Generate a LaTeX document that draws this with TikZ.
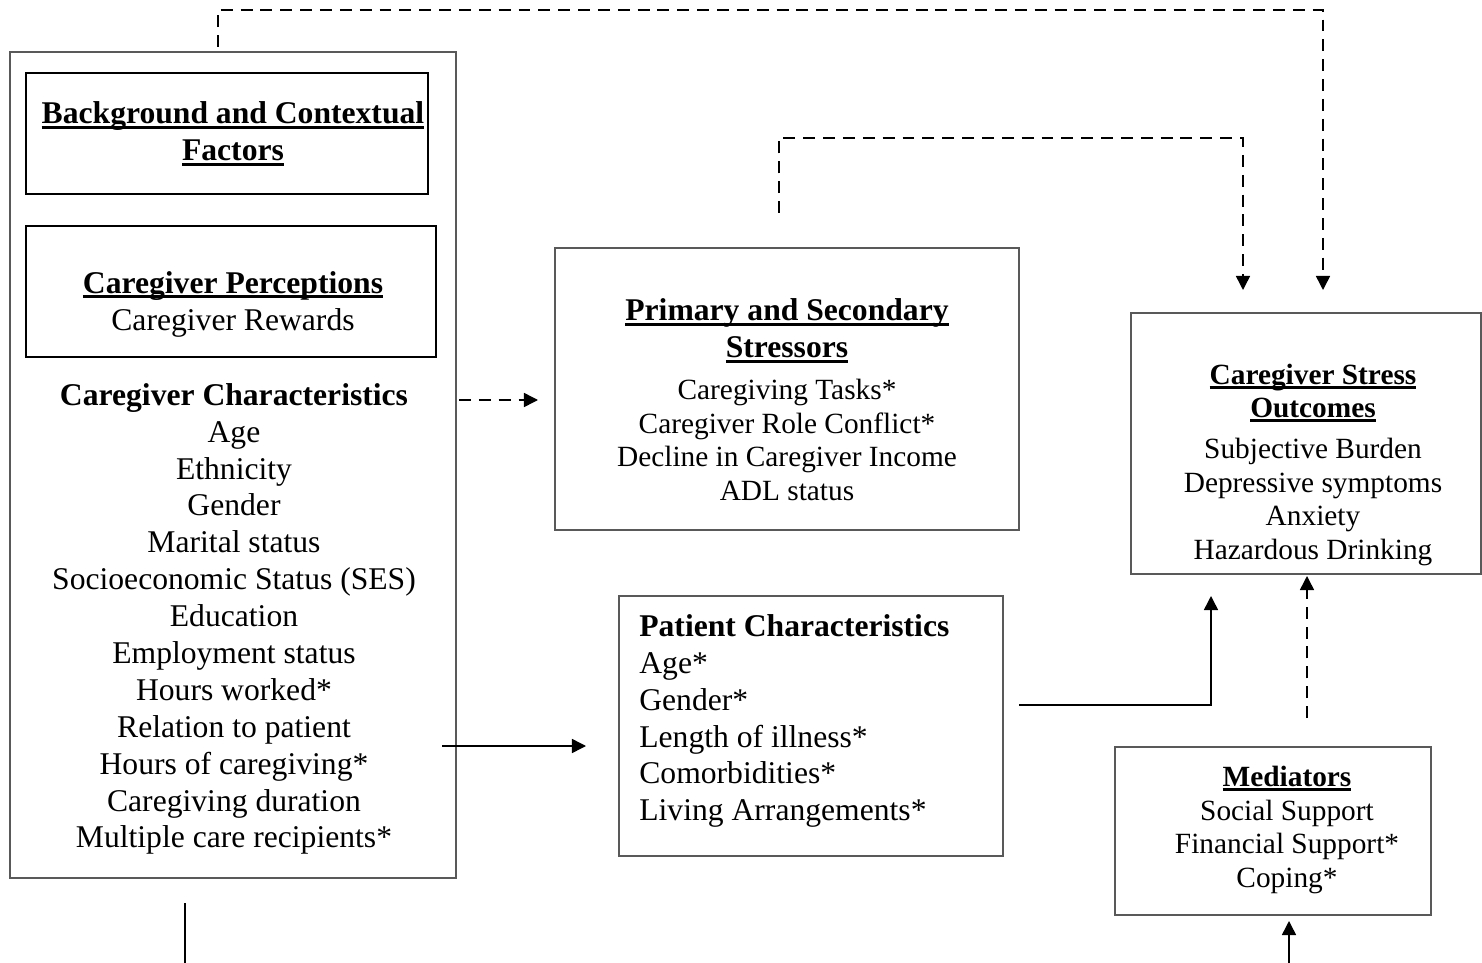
\documentclass[tikz,border=0pt]{standalone}
\usepackage{fontspec}
\setmainfont{Liberation Serif}
\usetikzlibrary{arrows.meta,fit,positioning}

% bold heading with a heavy underline
\newcommand\hdr[1]{{\bfseries\setbox0\hbox{#1}\rlap{\rule[-2.9pt]{\wd0}{1.6pt}}\box0}}

\begin{document}
\begin{tikzpicture}[x=0.02cm,y=-0.02cm,>={Triangle[length=8pt,width=8pt]}]
  \tikzset{
    box/.style={draw=black!65, line width=0.9pt, inner sep=0pt},
    heavybox/.style={draw=black, line width=1.3pt, inner sep=0pt},
    txt/.style={align=center, inner sep=0pt, font=\fontsize{18}{21}\selectfont},
    smalltxt/.style={txt, font=\fontsize{16.7}{19.3}\selectfont},
    link/.style={line width=0.85pt},
    dashlink/.style={link, dash pattern=on 6.8pt off 4.5pt}
  }
  \useasboundingbox (0,0) rectangle (1482,963);

  % left column: background, perceptions and caregiver characteristics
  \node[box, fit={(10,52) (456,878)}] (outer) {};
  \node[heavybox, fit={(26,73) (428,194)}] (bgbox) {};
  \node[txt] (bgtitle) at (233,134) {\hdr{Background and Contextual}\\\hdr{Factors}};
  \node[heavybox, fit={(26,226) (436,357)}] (percbox) {};
  \node[txt] (perctext) at (233,304) {\hdr{Caregiver Perceptions}\\Caregiver Rewards};
  \node[txt] (charstext) at (234,619) {\textbf{Caregiver Characteristics}\\Age\\Ethnicity\\Gender\\
    Marital status\\Socioeconomic Status (SES)\\Education\\Employment status\\Hours worked*\\
    Relation to patient\\Hours of caregiving*\\Caregiving duration\\Multiple care recipients*};

  % stressors
  \node[box, fit={(555,248) (1019,530)}] (stressbox) {};
  \node[txt] (stresstitle) at (787,331) {\hdr{Primary and Secondary}\\\hdr{Stressors}};
  \node[smalltxt] (stresstext) at (787,440) {Caregiving Tasks*\\Caregiver Role Conflict*\\
    Decline in Caregiver Income\\ADL status};

  % patient
  \node[box, fit={(619,596) (1003,856)}] (patbox) {};
  \node[txt, align=left, anchor=west] (pattext) at (639,721) {\textbf{Patient Characteristics}\\Age*\\Gender*\\
    Length of illness*\\Comorbidities*\\Living Arrangements*};

  % outcomes
  \node[box, fit={(1131,313) (1481,574)}] (outbox) {};
  \node[smalltxt, font=\fontsize{16.7}{18.7}\selectfont] (outtitle) at (1313,393) {\hdr{Caregiver Stress}\\\hdr{Outcomes}};
  \node[smalltxt] (outtext) at (1313,502) {Subjective Burden\\Depressive symptoms\\Anxiety\\Hazardous Drinking};

  % mediators
  \node[box, fit={(1115,747) (1431,915)}] (medbox) {};
  \node[smalltxt] (medtext) at (1287,830) {\hdr{Mediators}\\Social Support\\Financial Support*\\Coping*};

  % connector ends
  \coordinate (cc-s) at (459,400);
  \coordinate (st-w) at (538,400);
  \coordinate (cc-p) at (442,746);
  \coordinate (pt-w) at (586,746);
  \coordinate (pt-e) at (1019,705);
  \coordinate (oc-a) at (1211,596);
  \coordinate (md-n) at (1307,718);
  \coordinate (oc-b) at (1307,576);
  \coordinate (md-s) at (1289,921);
  \coordinate (bot-m) at (1289,963);
  \coordinate (bot-l) at (185,903);
  \coordinate (bot-e) at (185,963);
  \coordinate (bg-up) at (218,47);
  \coordinate (oc-c) at (1323,290);
  \coordinate (st-up) at (779,213);
  \coordinate (oc-d) at (1243,290);

  \draw[dashlink,->] (cc-s) -- (st-w);
  \draw[link,->] (cc-p) -- (pt-w);
  \draw[link,->] (pt-e) -| (oc-a);
  \draw[dashlink,->] (md-n) -- (oc-b);
  \draw[link,->] (bot-m) -- (md-s);
  \draw[link] (bot-l) -- (bot-e);
  % the two long dashed paths over the top
  \draw[dashlink,->] (bg-up) |- (1323,10) -- (oc-c);
  \draw[dashlink,->] (st-up) |- (1243,138) -- (oc-d);
\end{tikzpicture}
\end{document}
